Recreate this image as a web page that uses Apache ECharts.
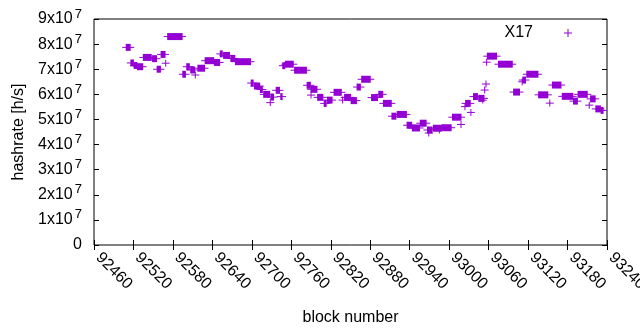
<!DOCTYPE html>
<html>
<head>
<meta charset="utf-8">
<script src="https://cdn.jsdelivr.net/npm/echarts@6/dist/echarts.min.js"></script>
<style>
  html, body { margin: 0; padding: 0; background: #fff; }
  #chart { width: 640px; height: 330px; }
</style>
</head>
<body>
<div id="chart"></div>
<script>
// runs of blocks that share one hashrate value (each block drawn as a "+")
const runStart = [
  92509, 92516, 92521, 92526, 92535, 92549, 92556, 92562, 92569, 92572,
  92595, 92601, 92607, 92614, 92618, 92629, 92643, 92652, 92657, 92668,
  92675, 92699, 92704, 92713, 92718, 92728, 92729, 92737, 92744, 92747,
  92751, 92765, 92784, 92790, 92790, 92800, 92810, 92815, 92825, 92838,
  92841, 92851, 92860, 92867, 92882, 92893, 92900, 92913, 92921, 92936,
  92944, 92956, 92967, 92969, 92976, 92985, 92989, 93005, 93018, 93024,
  93025, 93033, 93037, 93045, 93051, 93054, 93056, 93057, 93058, 93075,
  93098, 93111, 93112, 93118, 93136, 93153, 93157, 93172, 93189, 93196,
  93213, 93215, 93223, 93231
]
const runEnd = [
  92515, 92520, 92525, 92534, 92547, 92555, 92561, 92568, 92569, 92594,
  92599, 92605, 92613, 92614, 92628, 92642, 92651, 92655, 92666, 92674,
  92698, 92702, 92712, 92716, 92727, 92728, 92733, 92742, 92746, 92750,
  92763, 92783, 92789, 92799, 92790, 92808, 92813, 92822, 92836, 92838,
  92850, 92859, 92865, 92880, 92891, 92899, 92912, 92919, 92935, 92943,
  92955, 92965, 92974, 92969, 92988, 92985, 93003, 93018, 93018, 93024,
  93032, 93033, 93043, 93053, 93051, 93054, 93056, 93057, 93072, 93096,
  93107, 93111, 93116, 93135, 93150, 93153, 93170, 93188, 93195, 93210,
  93213, 93222, 93230, 93234
]
const hashrate = [
  7.87e7, 7.25e7, 7.15e7, 7.10e7, 7.47e7, 7.42e7, 7.00e7, 7.59e7, 7.24e7, 8.30e7,
  6.80e7, 7.10e7, 6.97e7, 6.77e7, 7.04e7, 7.34e7, 7.27e7, 7.61e7, 7.55e7, 7.43e7,
  7.30e7, 6.45e7, 6.33e7, 6.19e7, 6.00e7, 5.67e7, 5.89e7, 6.16e7, 5.91e7, 7.14e7,
  7.20e7, 6.96e7, 6.36e7, 6.20e7, 5.97e7, 5.88e7, 5.64e7, 5.77e7, 6.08e7, 5.77e7,
  5.88e7, 5.75e7, 6.29e7, 6.60e7, 5.87e7, 6.00e7, 5.64e7, 5.13e7, 5.20e7, 4.77e7,
  4.66e7, 4.85e7, 4.58e7, 4.46e7, 4.65e7, 4.58e7, 4.67e7, 5.09e7, 4.80e7, 5.51e7,
  5.64e7, 5.28e7, 5.91e7, 5.84e7, 5.77e7, 6.17e7, 6.41e7, 7.28e7, 7.52e7, 7.20e7,
  6.09e7, 6.50e7, 6.57e7, 6.80e7, 5.98e7, 5.65e7, 6.37e7, 5.92e7, 5.73e7, 6.00e7,
  5.57e7, 5.82e7, 5.42e7, 5.36e7
]

const FONT = 'Liberation Sans'
const COLOR = '#9400d3'
const PLUS = 'path://M0,3.5H8V4.5H0Z M3.5,0H4.5V8H3.5Z'

const chart = echarts.init(document.getElementById('chart'), null, { renderer: 'canvas' })

function renderItem (params, api) {
  const a = api.coord([api.value(0), api.value(2)])
  const b = api.coord([api.value(1), api.value(2)])
  const style = { fill: COLOR }
  return {
    type: 'group',
    children: [
      { type: 'rect', shape: { x: a[0] - 0.5, y: a[1] - 3.5, width: b[0] - a[0] + 1, height: 7 }, style },
      { type: 'rect', shape: { x: a[0] - 4, y: a[1] - 0.5, width: b[0] - a[0] + 8, height: 1 }, style }
    ]
  }
}

const tickStyle = { inside: true, length: 5, lineStyle: { color: '#000' } }

const option = {
  animation: false,
  textStyle: { fontFamily: FONT },
  grid: {
    left: 94, right: 33, top: 19, bottom: 85,
    show: true, borderColor: '#000', borderWidth: 1,
    outerBoundsMode: 'none'
  },
  legend: {
    data: [{ name: 'X17', icon: PLUS }],
    right: 63,
    top: 20,
    align: 'right',
    itemWidth: 8,
    itemHeight: 8,
    textStyle: { fontFamily: FONT, fontSize: 16, color: '#000', padding: [0, 26, 0, 0] }
  },
  xAxis: [{
    type: 'value',
    min: 92460,
    max: 93240,
    interval: 60,
    name: 'block number',
    nameLocation: 'middle',
    nameGap: 65,
    nameTextStyle: { fontFamily: FONT, fontSize: 16, color: '#000' },
    axisLine: { show: false },
    axisTick: tickStyle,
    splitLine: { show: false },
    axisLabel: {
      rotate: -45, margin: 6, padding: [0, 0, 0, 6],
      fontFamily: FONT, fontSize: 16, color: '#000',
      formatter: v => String(v)
    }
  }, {
    type: 'value',
    position: 'top',
    min: 92460,
    max: 93240,
    interval: 60,
    axisLine: { show: false },
    axisTick: tickStyle,
    splitLine: { show: false },
    axisLabel: { show: false }
  }],
  yAxis: [{
    type: 'value',
    min: 0,
    max: 9e7,
    interval: 1e7,
    name: 'hashrate [h/s]',
    nameLocation: 'middle',
    nameGap: 67,
    nameTextStyle: { fontFamily: FONT, fontSize: 16, color: '#000' },
    axisLine: { show: false },
    axisTick: tickStyle,
    splitLine: { show: false },
    axisLabel: {
      margin: 12,
      formatter: v => v === 0 ? '{b|0}' : '{b|' + Math.round(v / 1e7) + 'x10}{s|7}',
      rich: {
        b: { fontFamily: FONT, fontSize: 16, color: '#000' },
        s: { fontFamily: FONT, fontSize: 13, color: '#000', padding: [0, 0, 10, 2] }
      }
    }
  }, {
    type: 'value',
    position: 'right',
    min: 0,
    max: 9e7,
    interval: 1e7,
    axisLine: { show: false },
    axisTick: tickStyle,
    splitLine: { show: false },
    axisLabel: { show: false }
  }],
  series: [{
    name: 'X17',
    type: 'custom',
    renderItem: renderItem,
    itemStyle: { color: COLOR },
    encode: { x: [0, 1], y: 2 },
    data: runStart.map((s, i) => [s, runEnd[i], hashrate[i]])
  }]
}

chart.setOption(option)
</script>
</body>
</html>
